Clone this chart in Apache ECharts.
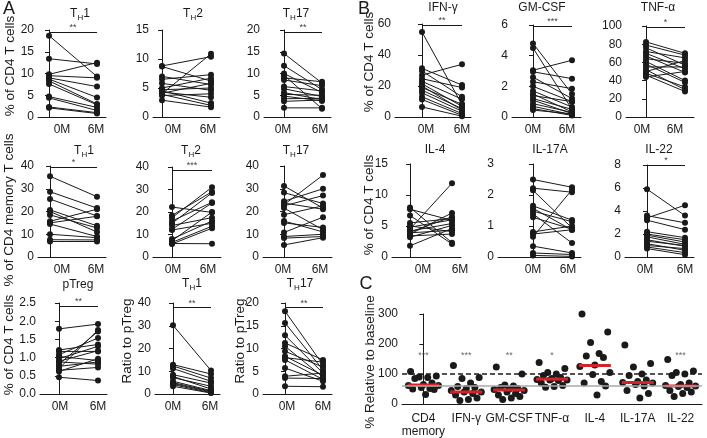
<!DOCTYPE html>
<html>
<head>
<meta charset="utf-8">
<script src="https://cdn.jsdelivr.net/npm/echarts@6/dist/echarts.min.js"></script>
<style>
html, body { margin: 0; padding: 0; background: #fff; }
#chart { width: 707px; height: 438px; }
</style>
</head>
<body>
<div id="chart"></div>
<script>
// ---- values ----
const timepoints = ["0M", "6M"];

// A, top row: % of CD4 T cells
const th1_0M = [18.7, 13.4, 9.8, 9.5, 9.0, 8.7, 8.3, 7.6, 4.7, 4.4, 2.3, 2.1];
const th1_6M = [9.3, 12.2, 12.5, 9.0, 7.0, 4.5, 3.0, 2.8, 2.2, 1.5, 1.0, 0.8];
const th2_0M = [8.8, 8.7, 7.0, 6.5, 5.8, 5.0, 4.7, 4.3, 4.0, 3.9, 3.7, 4.1, 2.9, 4.5];
const th2_6M = [10.4, 6.2, 5.6, 7.3, 4.6, 6.7, 5.0, 3.4, 10.9, 2.0, 4.0, 5.8, 1.7, 2.4];
const th17_0M = [14.6, 11.8, 10.0, 9.6, 9.0, 8.5, 7.0, 6.5, 5.6, 4.8, 4.2, 3.6, 2.1, 5.2];
const th17_6M = [7.8, 6.3, 5.6, 1.9, 8.1, 7.2, 6.0, 4.7, 4.0, 3.7, 4.3, 3.9, 2.1, 5.0];

// A, middle row: % of CD4 memory T cells
const mth1_0M = [35.5, 28.7, 25.5, 20.7, 20.0, 18.5, 15.7, 15.0, 14.5, 10.0, 7.6, 6.8];
const mth1_6M = [26.5, 21.5, 18.0, 13.7, 11.0, 12.8, 21.0, 17.9, 9.0, 8.5, 7.5, 6.8];
const mth2_0M = [22.2, 18.5, 17.5, 16.0, 15.0, 14.0, 12.3, 12.0, 8.0, 7.2, 6.5, 5.8, 6.0];
const mth2_6M = [19.8, 29.0, 31.0, 24.3, 28.5, 17.5, 24.0, 15.0, 16.0, 20.0, 13.7, 12.8, 5.9];
const mth17_0M = [31.2, 28.3, 24.5, 23.7, 23.0, 21.5, 18.6, 15.8, 15.0, 10.8, 9.0, 8.3, 5.3, 22.5];
const mth17_6M = [21.5, 23.5, 30.0, 21.0, 36.0, 12.0, 22.5, 11.0, 13.0, 17.5, 10.0, 9.0, 8.5, 27.0];

// A, bottom row: pTreg and ratios
const ptreg_0M = [1.79, 1.21, 1.17, 1.08, 1.03, 0.97, 0.90, 0.82, 0.76, 0.70, 0.62, 0.46, 0.88, 0.65];
const ptreg_6M = [1.92, 1.36, 1.17, 1.54, 0.92, 1.31, 1.19, 1.72, 0.88, 1.76, 0.97, 0.37, 0.82, 0.73];
const rth1_0M = [30.2, 12.9, 12.3, 11.2, 8.5, 7.7, 7.2, 5.6, 5.0, 4.6, 4.1, 3.4];
const rth1_6M = [10.3, 8.8, 7.0, 5.6, 4.8, 2.2, 3.4, 1.5, 1.2, 0.9, 0.6, 0.4];
const rth17_0M = [18.2, 15.6, 12.9, 11.2, 10.5, 9.4, 8.3, 8.0, 7.5, 5.7, 3.9, 3.5, 1.7];
const rth17_6M = [6.4, 5.3, 4.6, 7.5, 3.7, 5.9, 4.1, 7.0, 3.2, 2.8, 4.6, 3.4, 1.6];

// B: cytokine producing CD4 T cells
const ifng_0M = [54.8, 31.4, 29.7, 27.0, 24.7, 23.0, 21.4, 19.0, 17.3, 15.6, 13.0, 11.3, 6.5, 20.0];
const ifng_6M = [8.0, 20.6, 13.0, 34.0, 19.0, 11.5, 6.9, 8.2, 5.4, 3.7, 2.2, 1.1, 0.5, 4.5];
const gmcsf_0M = [4.8, 4.5, 3.05, 2.95, 2.6, 2.3, 2.0, 1.7, 1.5, 1.4, 1.2, 1.1, 0.87, 0.7, 0.55, 0.45];
const gmcsf_6M = [1.5, 0.5, 3.7, 2.5, 1.2, 1.85, 1.0, 0.65, 0.33, 1.0, 0.5, 0.22, 0.3, 0.15, 0.1, 0.2];
const tnfa_0M = [82.5, 79, 76, 72, 70, 67, 64, 61, 58, 55, 52, 50, 48, 46, 44];
const tnfa_6M = [70, 68, 57, 65, 53, 49, 59, 40, 38, 55, 30, 62, 33, 28, 50];
const il4_0M = [8.0, 7.7, 6.7, 5.5, 5.0, 4.5, 4.2, 4.0, 3.7, 3.4, 3.2, 1.8, 4.8, 3.9];
const il4_6M = [2.3, 5.9, 2.1, 6.2, 4.1, 11.9, 5.4, 6.5, 7.1, 3.7, 5.1, 4.6, 6.0, 4.3];
const il17a_0M = [2.5, 2.22, 2.15, 1.65, 1.57, 1.48, 1.39, 1.28, 0.81, 0.74, 0.65, 0.35, 0.13, 0.05];
const il17a_6M = [2.25, 2.09, 0.94, 1.19, 0.87, 1.14, 0.45, 0.9, 1.0, 0.88, 2.17, 0.13, 0.08, 0.02];
const il22_0M = [5.9, 3.6, 3.4, 3.2, 2.2, 2.0, 1.9, 1.75, 1.5, 1.37, 1.16, 1.0, 0.87, 0.73];
const il22_6M = [3.6, 2.97, 4.5, 2.38, 1.68, 1.5, 1.3, 1.1, 0.93, 1.0, 0.58, 0.73, 0.38, 0.2];

// C: % relative to baseline
const cCategories = ["CD4\nmemory", "IFN-γ", "GM-CSF", "TNF-α", "IL-4", "IL-17A", "IL-22"];
const relCd4mem = [108, 93, 90, 88, 85, 70, 65, 62, 55, 52, 50, 48, 32, 62];
const relIfng = [128, 88, 85, 70, 58, 55, 52, 45, 40, 40, 35, 30, 20, 15, 12];
const relGmcsf = [123, 100, 63, 60, 55, 52, 50, 48, 45, 40, 35, 30, 25, 20, 15];
const relTnfa = [138, 118, 105, 100, 95, 88, 85, 82, 80, 80, 78, 70, 62, 58, 56];
const relIl4 = [300, 240, 205, 168, 160, 155, 130, 125, 105, 98, 75, 70, 60, 30];
const relIl17a = [197, 135, 123, 100, 95, 80, 75, 72, 70, 65, 60, 45, 35, 20];
const relIl22 = [148, 110, 105, 100, 95, 70, 65, 62, 60, 58, 55, 45, 40, 35, 25];
const cMedians = [63, 40, 47, 83, 128, 72, 60];
const cStars = ["***", "***", "**", "*", "", "", "***"];

// ---- layout ----
const FONT = "Liberation Sans, Arial, sans-serif";
const INK = "#1a1a1a";
const TH = (n) => "{t|T}{s|H}{t|" + n + "}";

// L: y axis x, p0/p1: x of 0M/6M dots, R: end of x axis, lab: label centres
const panels = [
  { m0: th1_0M, m6: th1_6M, L: 38, p0: 49, p1: 97, R: 106, lab: [62, 96], top: 30, bot: 117, max: 20, step: 5, sig: "**", sigAt: 19.5 },
  { m0: th2_0M, m6: th2_6M, L: 153, p0: 162, p1: 211, R: 220, lab: [173, 208], top: 30, bot: 117, max: 15, step: 5 },
  { m0: th17_0M, m6: th17_6M, L: 264, p0: 284, p1: 322, R: 331, lab: [283, 320], top: 30, bot: 117, max: 20, step: 5, sig: "**", sigAt: 19.5 },
  { m0: ifng_0M, m6: ifng_6M, L: 395, p0: 422, p1: 462, R: 471, lab: [426, 462], top: 24, bot: 117, max: 60, step: 20, sig: "**", sigAt: 59.5 },
  { m0: gmcsf_0M, m6: gmcsf_6M, L: 512, p0: 533, p1: 572, R: 581, lab: [533, 567], top: 25, bot: 117, max: 6, step: 2, sig: "***", sigAt: 5.95 },
  { m0: tnfa_0M, m6: tnfa_6M, L: 626, p0: 646, p1: 685, R: 694, lab: [642, 675], top: 26, bot: 117, max: 100, step: 20, sig: "*", sigAt: 99 },
  { m0: mth1_0M, m6: mth1_6M, L: 38, p0: 50, p1: 97, R: 106, lab: [62, 96], top: 166, bot: 257, max: 40, step: 10, sig: "*", sigAt: 39.6 },
  { m0: mth2_0M, m6: mth2_6M, L: 153, p0: 172, p1: 212, R: 221, lab: [173, 208], top: 167, bot: 257, max: 40, step: 10, sig: "***", sigAt: 38.5 },
  { m0: mth17_0M, m6: mth17_6M, L: 263, p0: 284, p1: 323, R: 332, lab: [283, 320], top: 166, bot: 257, max: 40, step: 10 },
  { m0: il4_0M, m6: il4_6M, L: 392, p0: 410, p1: 452, R: 461, lab: [423, 460], top: 164, bot: 257, max: 15, step: 5 },
  { m0: il17a_0M, m6: il17a_6M, L: 498, p0: 533, p1: 572, R: 581, lab: [533, 568], top: 164, bot: 257, max: 3, step: 1 },
  { m0: il22_0M, m6: il22_6M, L: 625, p0: 647, p1: 685, R: 694, lab: [645, 685], top: 165, bot: 257, max: 8, step: 2, sig: "*", sigAt: 8 },
  { m0: ptreg_0M, m6: ptreg_6M, L: 40, p0: 59, p1: 98, R: 107, lab: [60, 98], top: 303, bot: 394, max: 2.5, step: 0.5, sig: "**", sigAt: 2.42, dec: 1 },
  { m0: rth1_0M, m6: rth1_6M, L: 155, p0: 173, p1: 211, R: 220, lab: [173, 210], top: 303, bot: 394, max: 40, step: 10, sig: "**", sigAt: 38 },
  { m0: rth17_0M, m6: rth17_6M, L: 263, p0: 285, p1: 323, R: 332, lab: [287, 323], top: 303, bot: 394, max: 20, step: 5, sig: "**", sigAt: 19 }
];

const panelTitles = [
  { text: TH(1), x: 80, y: 14 }, { text: TH(2), x: 193, y: 14 }, { text: TH(17), x: 296, y: 14 },
  { text: "IFN-γ", x: 443, y: 8 }, { text: "GM-CSF", x: 542, y: 8 }, { text: "TNF-α", x: 658, y: 8 },
  { text: TH(1), x: 84, y: 151 }, { text: TH(2), x: 191, y: 151 }, { text: TH(17), x: 296, y: 151 },
  { text: "IL-4", x: 435, y: 150 }, { text: "IL-17A", x: 550, y: 150 }, { text: "IL-22", x: 659, y: 150 },
  { text: "pTreg", x: 78, y: 285 }, { text: TH(1), x: 192, y: 284 }, { text: TH(17), x: 300, y: 284 }
];

const yTitles = [
  { text: "% of CD4 T cells", x: 10, y: 66 },
  { text: "% of CD4 memory T cells", x: 9, y: 210 },
  { text: "% of CD4 T cells", x: 9, y: 345 },
  { text: "Ratio to pTreg", x: 127, y: 341 },
  { text: "Ratio to pTreg", x: 240, y: 341 },
  { text: "% of CD4 T cells", x: 369, y: 62 },
  { text: "% of CD4 T cells", x: 369, y: 205 },
  { text: "% Relative to baseline", x: 370, y: 362 }
];

const letters = [
  { text: "A", x: 9, y: 9 }, { text: "B", x: 364, y: 9 }, { text: "C", x: 366, y: 284 }
];

const titleRich = {
  t: { fontFamily: FONT, fontSize: 12, color: INK, lineHeight: 16 },
  s: { fontFamily: FONT, fontSize: 8, color: INK, lineHeight: 8, verticalAlign: "bottom" }
};

function shiftStyle(d) {
  const st = { fontFamily: FONT, fontSize: 12, color: INK };
  if (d > 0) st.padding = [0, 0, 0, 2 * d];
  if (d < 0) st.padding = [0, -2 * d, 0, 0];
  return st;
}

const grids = [], xAxes = [], yAxes = [], series = [];

panels.forEach((p, i) => {
  const unit = p.p1 - p.p0;
  grids.push({ left: p.L, top: p.top, width: p.R - p.L, height: p.bot - p.top });
  xAxes.push({
    type: "value", gridIndex: i,
    min: -(p.p0 - p.L) / unit, max: 1 + (p.R - p.p1) / unit,
    axisLine: { show: true, onZero: false, lineStyle: { color: INK, width: 1 } },
    axisTick: { show: false },
    splitLine: { show: false },
    axisLabel: {
      customValues: [0, 1], margin: 7,
      formatter: (v) => (v < 0.5 ? "{a|" + timepoints[0] + "}" : "{b|" + timepoints[1] + "}"),
      rich: { a: shiftStyle(p.lab[0] - p.p0), b: shiftStyle(p.lab[1] - p.p1) }
    }
  });
  yAxes.push({
    type: "value", gridIndex: i, min: 0, max: p.max, interval: p.step,
    axisLine: { show: true, lineStyle: { color: INK, width: 1 } },
    axisTick: { show: true, length: 4, lineStyle: { color: INK } },
    splitLine: { show: false },
    axisLabel: {
      fontFamily: FONT, fontSize: 12, color: INK, margin: 4,
      formatter: (v) => (p.dec ? v.toFixed(p.dec) : String(v))
    }
  });
  p.m0.forEach((v0, j) => {
    const s = {
      type: "line", xAxisIndex: i, yAxisIndex: i, silent: true,
      data: [[0, v0], [1, p.m6[j]]],
      symbol: "circle", symbolSize: 6,
      lineStyle: { color: INK, width: 1 },
      itemStyle: { color: INK, opacity: 1 }
    };
    if (j === 0 && p.sig) {
      s.markLine = {
        silent: true, symbol: "none",
        lineStyle: { color: INK, width: 1, type: "solid" },
        label: { show: true, position: "insideMiddleTop", distance: 0, formatter: p.sig, fontFamily: FONT, fontSize: 9, color: "#444" },
        data: [[{ coord: [0, p.sigAt] }, { coord: [1, p.sigAt] }]]
      };
    }
    series.push(s);
  });
});

// panel C
const ci = panels.length;
const cGroups = [relCd4mem, relIfng, relGmcsf, relTnfa, relIl4, relIl17a, relIl22];
const spread = [-0.3, 0.3, -0.1, 0.1, -0.2, 0.2, 0, -0.35, 0.35, -0.05, 0.15, -0.25, 0.25, 0.05, -0.15];
grids.push({ left: 402, top: 314, width: 300, height: 94 });
xAxes.push({
  type: "value", gridIndex: ci, min: -0.5, max: 6.5,
  axisLine: { show: true, onZero: false, lineStyle: { color: INK, width: 1 } },
  axisTick: { show: false }, splitLine: { show: false },
  axisLabel: {
    customValues: [0, 1, 2, 3, 4, 5, 6], margin: 8,
    fontFamily: FONT, fontSize: 12, color: INK, lineHeight: 13,
    formatter: (v) => cCategories[Math.round(v)]
  }
});
yAxes.push({
  type: "value", gridIndex: ci, min: 0, max: 300, interval: 100,
  axisLine: { show: true, lineStyle: { color: INK, width: 1 } },
  axisTick: { show: true, length: 4, lineStyle: { color: INK } },
  splitLine: { show: false },
  axisLabel: { fontFamily: FONT, fontSize: 12, color: INK, margin: 4 }
});
const cDots = [];
cGroups.forEach((g, k) => {
  const sorted = g.slice().sort((a, b) => b - a);
  sorted.forEach((v, j) => cDots.push([k + spread[j % spread.length], v]));
});
series.push({
  type: "scatter", xAxisIndex: ci, yAxisIndex: ci, silent: true, z: 3,
  data: cDots, symbol: "circle", symbolSize: 7, itemStyle: { color: INK, opacity: 1 },
  markLine: {
    silent: true, symbol: "none", label: { show: false },
    data: [
      { yAxis: 100, lineStyle: { color: INK, width: 1.5, type: [5, 3] } },
      { yAxis: 62, lineStyle: { color: "#a8a8a8", width: 1.5, type: "solid" } }
    ]
  }
});
series.push({
  type: "scatter", xAxisIndex: ci, yAxisIndex: ci, silent: true, z: 4,
  data: cMedians.map((m, k) => [k, m]),
  symbol: "rect", symbolSize: [32, 3], itemStyle: { color: "#d2232a", opacity: 1 }
});
series.push({
  type: "scatter", xAxisIndex: ci, yAxisIndex: ci, silent: true, z: 4,
  data: cStars.map((s, k) => [k, 160]), symbolSize: 0,
  label: { show: true, position: "inside", formatter: (q) => cStars[q.dataIndex], fontFamily: FONT, fontSize: 9, color: "#444" }
});

// texts
const graphic = [];
panelTitles.forEach((t) => graphic.push({
  type: "text", x: t.x, y: t.y, silent: true,
  style: { text: t.text, rich: titleRich, font: "12px " + FONT, fill: INK, align: "center", verticalAlign: "middle" }
}));
yTitles.forEach((t) => graphic.push({
  type: "text", x: t.x, y: t.y, rotation: Math.PI / 2, silent: true,
  style: { text: t.text, font: "13.5px " + FONT, fill: INK, align: "center", verticalAlign: "middle" }
}));
letters.forEach((t) => graphic.push({
  type: "text", x: t.x, y: t.y, silent: true,
  style: { text: t.text, font: "18px " + FONT, fill: INK, align: "center", verticalAlign: "middle" }
}));

const chart = echarts.init(document.getElementById("chart"));
chart.setOption({
  animation: false,
  backgroundColor: "#fff",
  grid: grids, xAxis: xAxes, yAxis: yAxes, series: series,
  graphic: graphic
});
</script>
</body>
</html>
